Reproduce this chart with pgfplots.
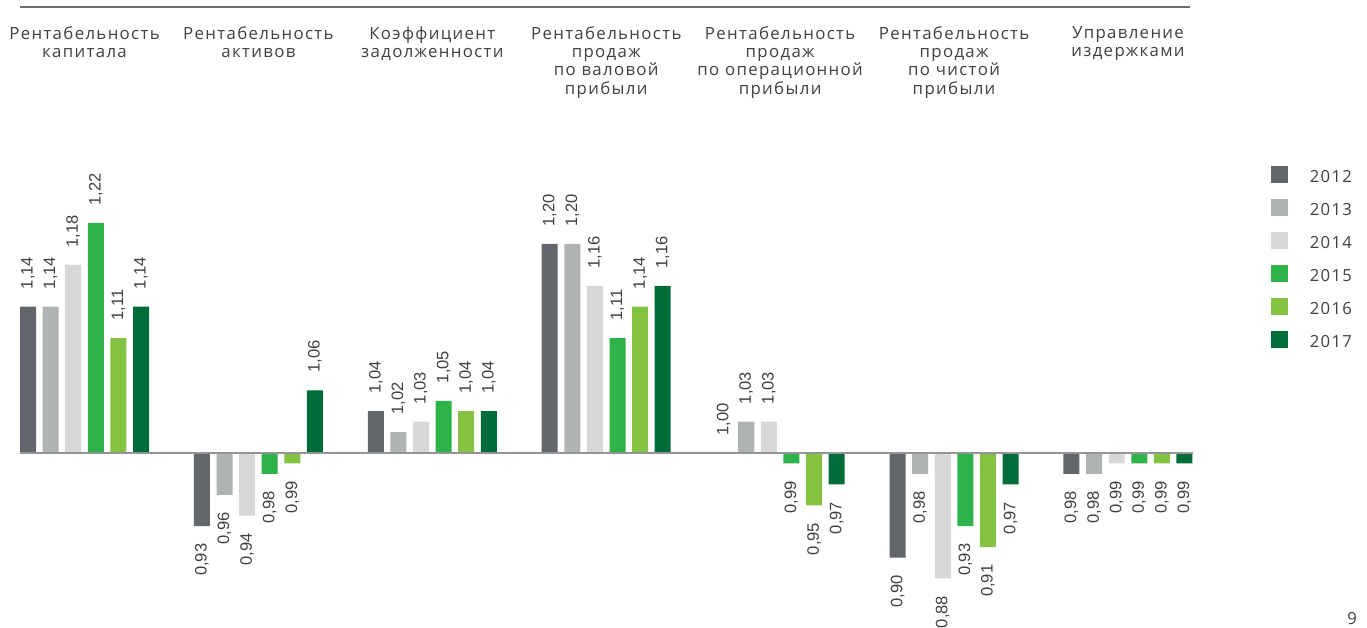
\documentclass[border=0pt]{standalone}
\usepackage{fontspec}
\setmainfont{Open Sans}
\newfontfamily\ttlfont[LetterSpace=8]{Open Sans}
\newfontfamily\lblfont{Liberation Sans}
\usepackage{pgfplots}
\usepackage{pgfplotstable}
\pgfplotsset{compat=1.18}
\definecolor{c2012}{HTML}{63666A}
\definecolor{c2013}{HTML}{B0B3B3}
\definecolor{c2014}{HTML}{D7D7D5}
\definecolor{c2015}{HTML}{2DB34A}
\definecolor{c2016}{HTML}{84C341}
\definecolor{c2017}{HTML}{006C37}
\definecolor{txt}{HTML}{404041}
\definecolor{rulegray}{HTML}{6D6E71}
\definecolor{basegray}{HTML}{939598}

\pgfplotstableread{
g v
0 1.14
1 0.93
2 1.04
3 1.20
4 1.00
5 0.90
6 0.98
}\dA
\pgfplotstableread{
g v
0 1.14
1 0.96
2 1.02
3 1.20
4 1.03
5 0.98
6 0.98
}\dB
\pgfplotstableread{
g v
0 1.18
1 0.94
2 1.03
3 1.16
4 1.03
5 0.88
6 0.99
}\dC
\pgfplotstableread{
g v
0 1.22
1 0.98
2 1.05
3 1.11
4 0.99
5 0.93
6 0.99
}\dD
\pgfplotstableread{
g v
0 1.11
1 0.99
2 1.04
3 1.14
4 0.95
5 0.91
6 0.99
}\dE
\pgfplotstableread{
g v
0 1.14
1 1.06
2 1.04
3 1.16
4 0.97
5 0.97
6 0.99
}\dF

\pgfplotsset{
  mybar/.style={
    ybar, bar width=0.09201, bar shift=0pt, draw=none, fill=#1, forget plot,
    point meta=explicit,
    nodes near coords={\pgfmathprintnumber[fixed,fixed zerofill,precision=2,use comma,assume math mode=true]{\pgfplotspointmeta}},
    every node near coord/.append style={rotate=90, inner xsep=13pt, inner ysep=0pt,
      font=\lblfont\fontsize{12.4pt}{14pt}\selectfont, text=txt},
  },
  pos/.style={restrict y to domain=0:1, every node near coord/.append style={anchor=west}},
  neg/.style={restrict y to domain=-1:-0.001, every node near coord/.append style={anchor=east}},
  sq/.style={legend image code/.code={\fill[#1] (0pt,-4pt) rectangle (12pt,8pt);}},
}

\begin{document}
\begin{tikzpicture}
\useasboundingbox (0,0) rectangle (1025.25pt,471pt);
\begin{axis}[
  at={(0pt,0pt)}, anchor=south west,
  scale only axis, width=1025.25pt, height=471pt,
  xmin=-0.48591, xmax=7.37493,
  ymin=-0.16746, ymax=0.43349,
  hide axis, clip=false,
  legend style={at={(rel axis cs:0.92977,0.73567)}, anchor=north west,
    draw=none, fill=none, inner sep=0pt, row sep=11.25pt, column sep=16.5pt,
    nodes={inner sep=0pt, font=\ttlfont\fontsize{12.5pt}{14pt}\selectfont, text=txt}},
  legend cell align=left,
]
\addplot[mybar=c2012, pos] table[x expr=\thisrow{g}-0.32490, y expr=\thisrow{v}-1, meta=v] {\dA};
\addplot[mybar=c2012, neg] table[x expr=\thisrow{g}-0.32490, y expr=\thisrow{v}-1, meta=v] {\dA};
\addplot[mybar=c2013, pos] table[x expr=\thisrow{g}-0.19494, y expr=\thisrow{v}-1, meta=v] {\dB};
\addplot[mybar=c2013, neg] table[x expr=\thisrow{g}-0.19494, y expr=\thisrow{v}-1, meta=v] {\dB};
\addplot[mybar=c2014, pos] table[x expr=\thisrow{g}-0.06498, y expr=\thisrow{v}-1, meta=v] {\dC};
\addplot[mybar=c2014, neg] table[x expr=\thisrow{g}-0.06498, y expr=\thisrow{v}-1, meta=v] {\dC};
\addplot[mybar=c2015, pos] table[x expr=\thisrow{g}+0.06498, y expr=\thisrow{v}-1, meta=v] {\dD};
\addplot[mybar=c2015, neg] table[x expr=\thisrow{g}+0.06498, y expr=\thisrow{v}-1, meta=v] {\dD};
\addplot[mybar=c2016, pos] table[x expr=\thisrow{g}+0.19494, y expr=\thisrow{v}-1, meta=v] {\dE};
\addplot[mybar=c2016, neg] table[x expr=\thisrow{g}+0.19494, y expr=\thisrow{v}-1, meta=v] {\dE};
\addplot[mybar=c2017, pos] table[x expr=\thisrow{g}+0.32490, y expr=\thisrow{v}-1, meta=v] {\dF};
\addplot[mybar=c2017, neg] table[x expr=\thisrow{g}+0.32490, y expr=\thisrow{v}-1, meta=v] {\dF};
\addlegendimage{sq=c2012}\addlegendentry{2012}
\addlegendimage{sq=c2013}\addlegendentry{2013}
\addlegendimage{sq=c2014}\addlegendentry{2014}
\addlegendimage{sq=c2015}\addlegendentry{2015}
\addlegendimage{sq=c2016}\addlegendentry{2016}
\addlegendimage{sq=c2017}\addlegendentry{2017}
\addplot[basegray, line width=1.1pt, forget plot] coordinates {(-0.37090,0) (6.37435,0)};
\draw[rulegray, line width=1.1pt] (axis cs:-0.37090,0.42679) -- (axis cs:6.35710,0.42679);
\begin{scope}[every node/.style={anchor=north, align=center, inner sep=0pt, text=txt,
    font=\ttlfont\fontsize{12.6pt}{13.8pt}\selectfont}]
\node at (axis cs:0,0.40861) {Рентабельность\\капитала};
\node at (axis cs:1,0.40861) {Рентабельность\\активов};
\node at (axis cs:2,0.40861) {Коэффициент\\задолженности};
\node at (axis cs:3,0.40861) {Рентабельность\\продаж\\по валовой\\прибыли};
\node at (axis cs:4,0.40861) {Рентабельность\\продаж\\по операционной\\прибыли};
\node at (axis cs:5,0.40861) {Рентабельность\\продаж\\по чистой\\прибыли};
\node at (axis cs:6,0.40861) {Управление\\издержками};
\end{scope}
\node[anchor=base, inner sep=0pt, text=txt, font=\ttlfont\fontsize{12.5pt}{14pt}\selectfont] at (rel axis cs:0.98903,0.0048) {9};
\end{axis}
\end{tikzpicture}
\end{document}
